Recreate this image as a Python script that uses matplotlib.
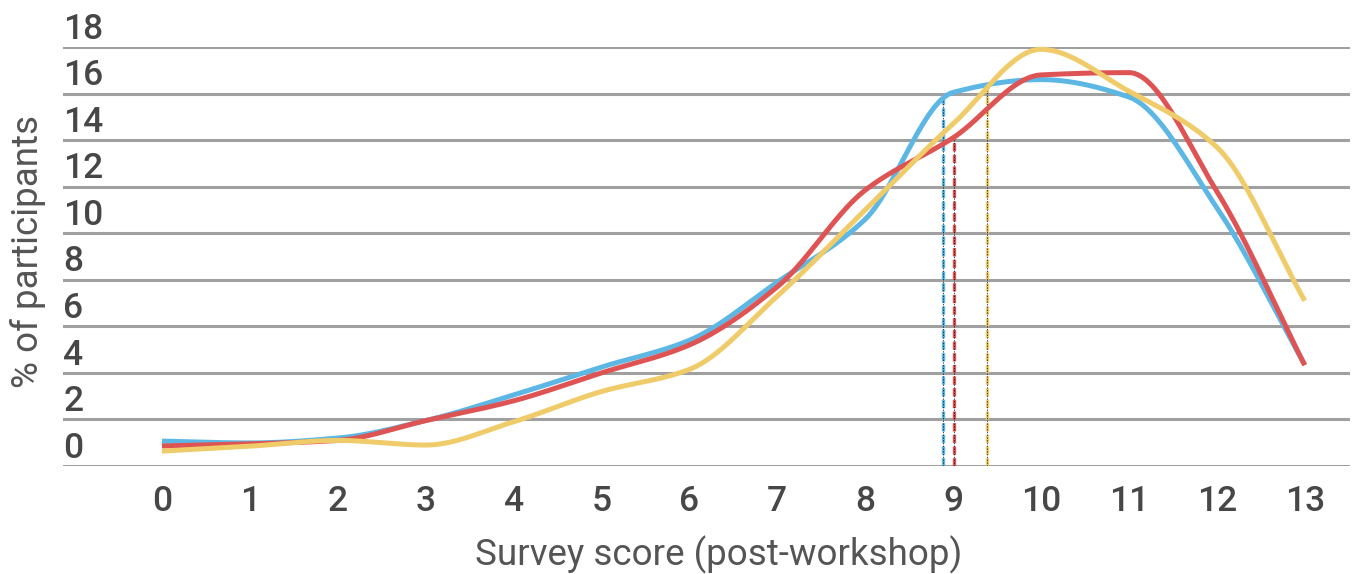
import numpy as np
import matplotlib
matplotlib.use("Agg")
import matplotlib.pyplot as plt

# Survey score categories and % of participants per cohort
scores = list(range(14))
blue_vals = [1.07, 0.99, 1.2, 1.95, 3.05, 4.25, 5.4, 7.9, 10.6, 16.05, 16.6, 15.85, 11.1, 4.35]
red_vals = [0.86, 0.95, 1.1, 1.95, 2.8, 4.0, 5.2, 7.7, 11.85, 14.1, 16.8, 16.9, 11.8, 4.33]
yellow_vals = [0.64, 0.85, 1.1, 0.9, 1.9, 3.2, 4.15, 7.3, 11.0, 14.7, 17.9, 16.1, 13.7, 7.1]

# Mean score for each cohort (marked with a drop line)
blue_mean = 8.88
red_mean = 9.01
yellow_mean = 9.39

y_ticks = list(range(0, 19, 2))
x_label = "Survey score (post-workshop)"
y_label = "% of participants"

BLUE = "#5DB7E4"
RED = "#DE5454"
YELLOW = "#F0CB69"
TEXT = "#474747"
TITLE = "#555555"
GRID = "#A0A0A0"
FONT = "Roboto"


def smooth(xs, ys, n=60):
    """Shape-preserving cubic (PCHIP) curve through the points."""
    xs = np.asarray(xs, float)
    ys = np.asarray(ys, float)
    h = np.diff(xs)
    d = np.diff(ys) / h
    m = np.zeros_like(ys)
    for k in range(1, len(xs) - 1):
        if d[k - 1] * d[k] <= 0:
            m[k] = 0.0
        else:
            w1 = 2 * h[k] + h[k - 1]
            w2 = h[k] + 2 * h[k - 1]
            m[k] = (w1 + w2) / (w1 / d[k - 1] + w2 / d[k])
    m[0] = d[0]
    m[-1] = d[-1]
    out_x, out_y = [], []
    for i in range(len(xs) - 1):
        t = np.linspace(0, 1, n, endpoint=False)
        h00 = 2 * t**3 - 3 * t**2 + 1
        h10 = t**3 - 2 * t**2 + t
        h01 = -2 * t**3 + 3 * t**2
        h11 = t**3 - t**2
        out_x.append(xs[i] + t * h[i])
        out_y.append(h00 * ys[i] + h10 * h[i] * m[i] + h01 * ys[i + 1] + h11 * h[i] * m[i + 1])
    out_x.append([xs[-1]])
    out_y.append([ys[-1]])
    return np.concatenate(out_x), np.concatenate(out_y)


fig = plt.figure(figsize=(13.55, 5.74), dpi=100)
ax = fig.add_axes([63 / 1355, 108 / 574, 1287 / 1355, 419 / 574])
ax.set_xlim(-1.126, 13.515)
ax.set_ylim(0, 18)

for s in ax.spines.values():
    s.set_visible(False)

ax.set_yticks(y_ticks)
ax.yaxis.grid(True, color=GRID, linewidth=2.2, zorder=0)
ax.set_axisbelow(True)
ax.tick_params(axis="y", left=False, labelleft=False)
for v in y_ticks:
    ax.annotate(str(v), xy=(0, v), xycoords=("axes fraction", "data"),
                xytext=(0.3, 6.0), textcoords="offset points",
                ha="left", va="baseline", fontsize=25.5, color=TEXT,
                family=FONT, fontweight="medium", annotation_clip=False)

ax.set_xticks(scores)
ax.set_xticklabels([str(s) for s in scores], fontsize=25.5, color=TEXT,
                   family=FONT, fontweight="medium")
ax.tick_params(axis="x", length=0, pad=13.5)

series = [(blue_vals, BLUE, blue_mean), (red_vals, RED, red_mean),
          (yellow_vals, YELLOW, yellow_mean)]

for i, (vals, col, mean) in enumerate(series):
    sx, sy = smooth(scores, vals)
    ax.plot(sx, sy, color=col, linewidth=3.6, solid_capstyle="butt",
            zorder=5 + i, clip_on=False)

for vals, col, mean in series:
    sx, sy = smooth(scores, vals)
    top = float(np.interp(mean, sx, sy))
    ax.plot([mean, mean], [0, top], color=col, linewidth=2.4,
            linestyle=(0, (2.5, 1.0)), zorder=3)
    ax.plot([mean, mean], [0, top], color="black", linewidth=0.5,
            linestyle=(0, (2, 2)), zorder=4)

fig.text(719 / 1355, 1 - 565 / 574, x_label, ha="center", va="baseline",
         fontsize=26.5, color=TITLE, family=FONT)
fig.text(28 / 1355, 1 - 252 / 574, y_label, ha="center", va="center",
         rotation=90, fontsize=26.5, color=TITLE, family=FONT)

fig.savefig("out.png", dpi=100)
